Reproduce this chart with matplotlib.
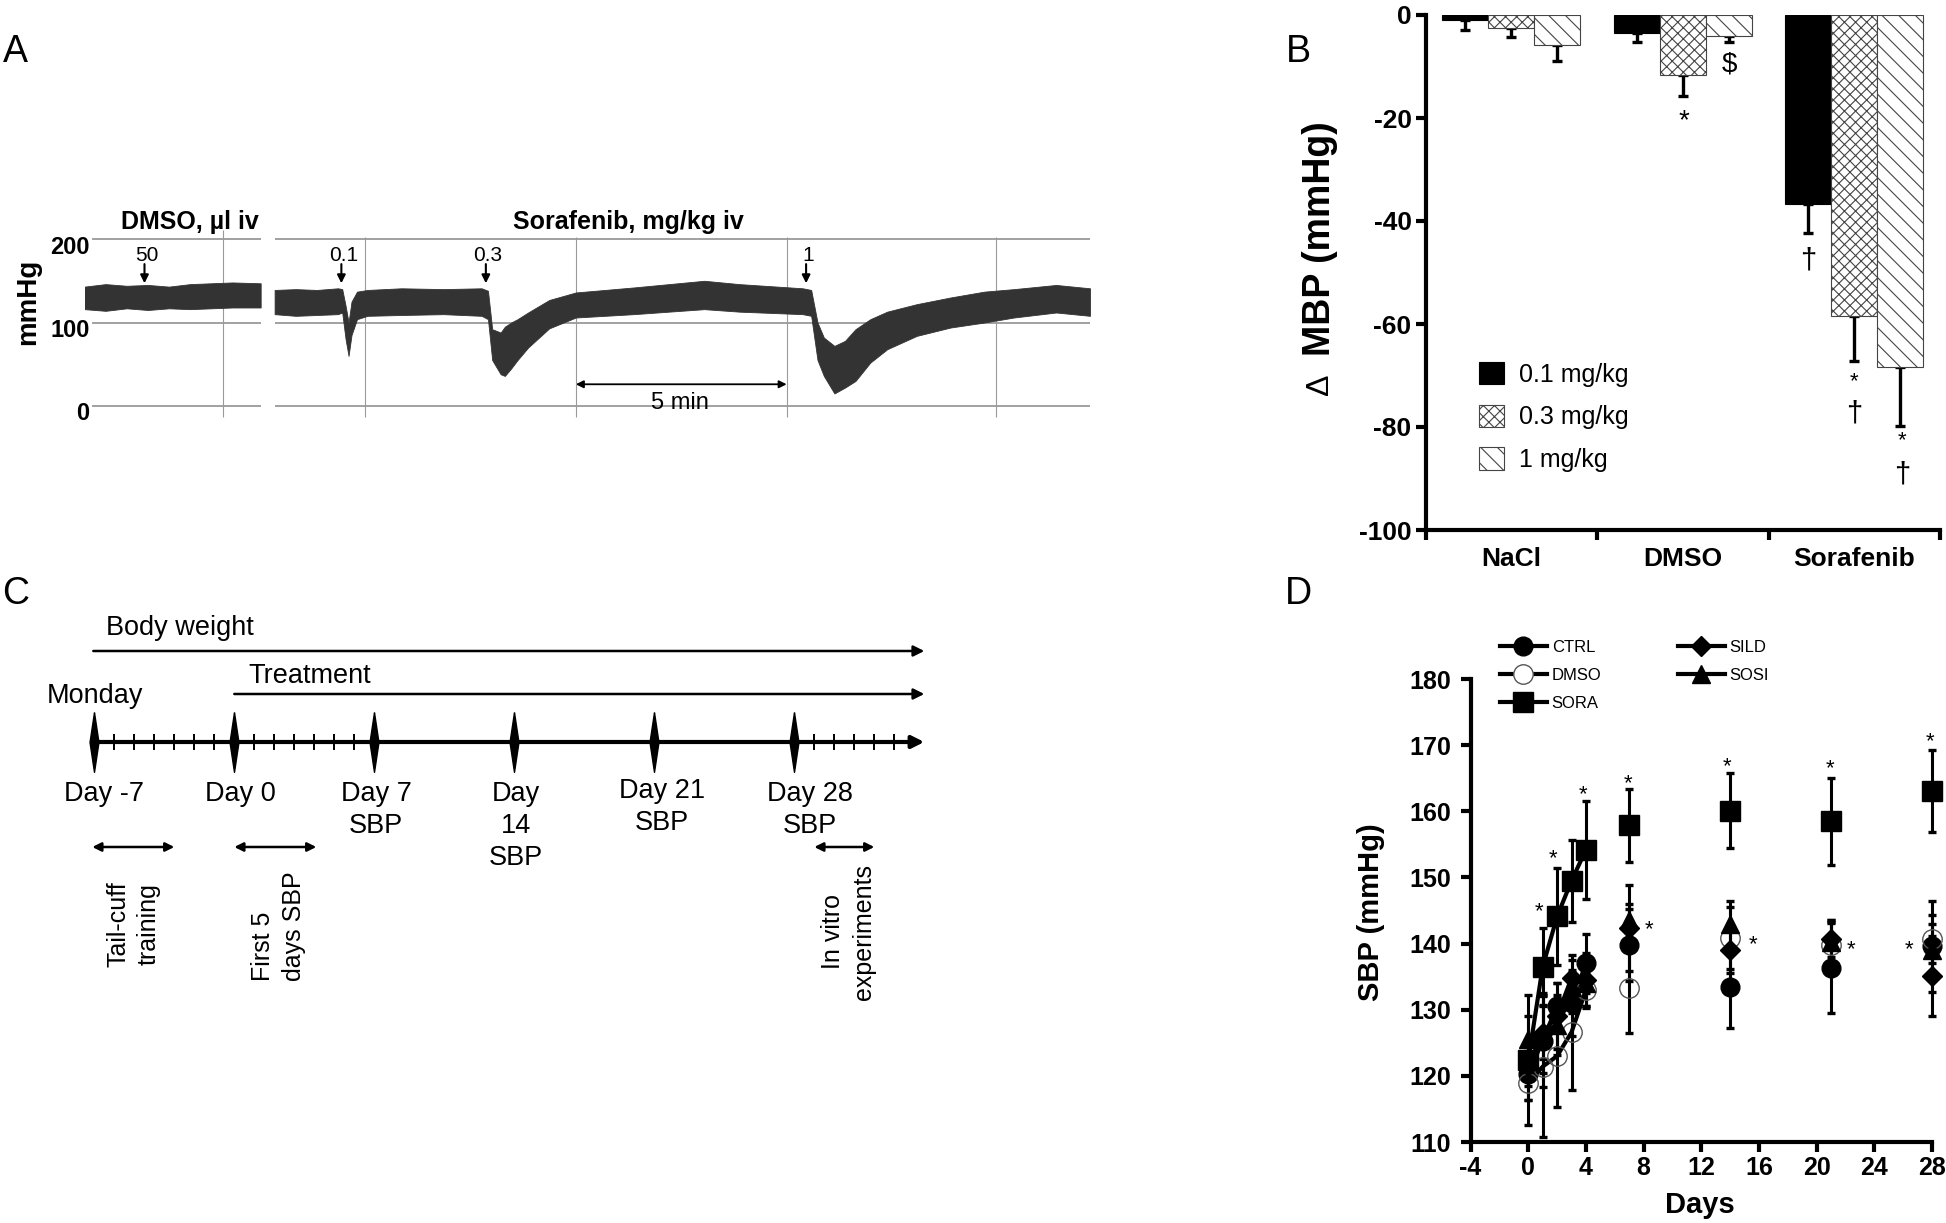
import numpy as np
import matplotlib.pyplot as plt
from matplotlib.lines import Line2D

plt.rcParams['font.family'] = ['Liberation Sans', 'DejaVu Sans']
plt.rcParams['hatch.linewidth'] = 0.8

W, H = 1946, 1223


def fx(x):
    return x / W


def fy(y):
    return 1 - y / H


# ---------------- data ----------------
# Panel A: envelope (max / min) of the pulsatile pressure trace, mmHg vs min
dmso_t = [-4.5, -4.0, -3.5, -3.0, -2.5, -2.0, -1.5, -1.0, -0.33]
dmso_hi = [143, 146, 144, 145, 143, 146, 147, 148, 147]
dmso_lo = [116, 114, 117, 115, 117, 116, 117, 118, 118]

sora_t = [0.0, 0.5, 1.0, 1.5, 1.6, 1.68, 1.75, 1.82, 1.95, 2.2, 3.0, 4.0, 4.9,
          5.05, 5.15, 5.35, 5.45, 5.6, 5.75, 6.0, 6.5, 7.13, 8.5, 10.17, 11.0,
          12.5, 12.7, 12.85, 13.0, 13.25, 13.5, 13.75, 14.1, 14.5, 15.2,
          16.0, 16.8, 17.5, 18.5, 19.3]
sora_hi = [139, 140, 139, 141, 140, 120, 100, 125, 137, 139, 141, 140, 141,
           138, 92, 88, 95, 100, 104, 112, 127, 136, 142, 150, 146,
           141, 139, 100, 82, 72, 78, 92, 104, 113, 122,
           130, 137, 140, 145, 141]
sora_lo = [110, 108, 109, 110, 112, 80, 60, 85, 104, 108, 109, 110, 108,
           104, 55, 38, 36, 45, 55, 70, 93, 106, 110, 116, 113,
           110, 108, 55, 36, 15, 22, 30, 52, 68, 84,
           94, 100, 106, 112, 108]

a_doses = ['50', '0.1', '0.3', '1']
a_dose_t = [-3.08, 1.58, 5.0, 12.58]
a_yticks = [200, 100, 0]

# Panel B: change in MBP
groups_b = ['NaCl', 'DMSO', 'Sorafenib']
doses_b = ['0.1 mg/kg', '0.3 mg/kg', '1 mg/kg']
mbp_01 = [-1.0, -3.5, -36.7]
mbp_03 = [-2.6, -11.7, -58.5]
mbp_1 = [-5.8, -4.0, -68.4]
sem_01 = [2.0, 1.7, 5.7]
sem_03 = [1.6, 4.1, 8.7]
sem_1 = [3.2, 1.2, 11.5]

# Panel C: protocol timeline (days)
week_days = [-7, 0, 7, 14, 21, 28]
week_labels = ['Day -7', 'Day 0', 'Day 7\nSBP', 'Day\n14\nSBP', 'Day 21\nSBP', 'Day 28\nSBP']
daily_ticks = [-6, -5, -4, -3, -2, -1, 1, 2, 3, 4, 5, 6, 29, 30, 31, 32, 33]

# Panel D: SBP time course
days = [0, 1, 2, 3, 4, 7, 14, 21, 28]
ctrl = [120.3, 125.3, 130.6, 131.0, 137.0, 139.8, 133.4, 136.3, 139.6]
ctrl_err = [4.0, 7.0, 3.5, 5.0, 4.4, 5.5, 6.2, 6.8, 6.9]
dmso = [118.9, 121.4, 123.0, 126.6, 133.0, 133.3, 140.9, 139.8, 140.7]
dmso_err = [2.5, 10.6, 7.7, 8.7, 2.5, 6.8, 4.7, 3.7, 3.6]
sora = [122.4, 136.5, 144.1, 149.5, 154.2, 157.9, 160.1, 158.5, 163.0]
sora_err = [9.8, 5.8, 7.3, 6.2, 7.4, 5.5, 5.7, 6.6, 6.2]
sild = [121.5, 126.5, 129.0, 134.8, 134.5, 142.4, 139.0, 140.7, 135.1]
sild_err = [3.0, 4.0, 5.0, 3.5, 4.0, 6.5, 3.5, 2.8, 6.0]
sosi = [125.5, 126.5, 127.7, 133.5, 134.0, 143.5, 142.9, 140.3, 139.0]
sosi_err = [3.5, 6.0, 4.5, 4.0, 3.7, 2.5, 3.5, 3.0, 4.0]

fig = plt.figure(figsize=(W / 100, H / 100), dpi=100)

# ---------------- panel A ----------------
ax_a = fig.add_axes([fx(84.5), fy(418.5), fx(1090) - fx(84.5), (418.5 - 214) / H])
ax_a.set_xlim(-4.5, 19.3)
ax_a.set_ylim(-15, 230)
ax_a.axis('off')
gc = '#9a9a9a'
ax_a.hlines(a_yticks, -4.33, -0.33, color=gc, lw=1.3, zorder=0)
ax_a.hlines(a_yticks, 0, 19.3, color=gc, lw=1.3, zorder=0)
ax_a.vlines([-1.23], -13, 211, color=gc, lw=0.8, zorder=0)
ax_a.vlines([2.13, 7.13, 12.12, 17.08], -13, 203, color=gc, lw=0.8, zorder=0)
ax_a.fill_between(dmso_t, dmso_lo, dmso_hi, color='#333333', lw=0.6)
ax_a.fill_between(sora_t, sora_lo, sora_hi, color='#333333', lw=0.6)
for v, yy in zip(a_yticks, [190, 91, -9]):
    ax_a.text(-4.38, yy, str(v), ha='right', va='center', fontsize=17, fontweight='bold')
ax_a.text(-2.0, 221, 'DMSO, µl iv', ha='center', va='center', fontsize=18, fontweight='bold')
ax_a.text(8.37, 221, 'Sorafenib, mg/kg iv', ha='center', va='center', fontsize=18, fontweight='bold')
for lab, t in zip(a_doses, a_dose_t):
    ax_a.annotate('', xy=(t, 147), xytext=(t, 170),
                  arrowprops=dict(arrowstyle='-|>', color='k', lw=1.5, mutation_scale=12,
                                  shrinkA=0, shrinkB=0))
    ax_a.text(t + 0.05, 180, lab, ha='center', va='center', fontsize=15)
ax_a.annotate('', xy=(7.13, 26), xytext=(12.12, 26),
              arrowprops=dict(arrowstyle='<|-|>', color='k', lw=1.3, mutation_scale=11,
                              shrinkA=0, shrinkB=0))
ax_a.text(9.6, 3, '5 min', ha='center', va='center', fontsize=17)
fig.text(fx(28), fy(302), 'mmHg', rotation=90, ha='center', va='center',
         fontsize=20, fontweight='bold')

# ---------------- panel B ----------------
ax_b = fig.add_axes([fx(1425.5), fy(530), fx(1940) - fx(1425.5), (530 - 15) / H])
x = np.arange(len(groups_b)) + 0.5
bw = 0.268
b1 = ax_b.bar(x - bw, mbp_01, bw, color='black', edgecolor='black', lw=0.8, zorder=3)
b2 = ax_b.bar(x, mbp_03, bw, color='white', edgecolor='#444444', hatch='xxx', lw=0.8, zorder=3)
b3 = ax_b.bar(x + bw, mbp_1, bw, color='white', edgecolor='#444444', hatch='\\\\', lw=0.8, zorder=3)
for xs, vals, err in [(x - bw, mbp_01, sem_01), (x, mbp_03, sem_03), (x + bw, mbp_1, sem_1)]:
    ax_b.errorbar(xs, vals, yerr=[err, [0] * len(err)], fmt='none', ecolor='k',
                  elinewidth=2.4, capsize=3.6, capthick=2.4, zorder=2)
ax_b.set_xlim(0, 3)
ax_b.set_ylim(-100, 0)
for s in ['top', 'right']:
    ax_b.spines[s].set_visible(False)
for s in ['left', 'bottom']:
    ax_b.spines[s].set_linewidth(3)
ax_b.set_yticks([0, -20, -40, -60, -80, -100])
ax_b.set_yticklabels(['0', '-20', '-40', '-60', '-80', '-100'], fontsize=19, fontweight='bold')
ax_b.set_xticks([0, 1, 2, 3])
ax_b.set_xticklabels([])
ax_b.set_xticks(x, minor=True)
ax_b.set_xticklabels(groups_b, minor=True, fontsize=19, fontweight='bold')
ax_b.tick_params(which='major', direction='out', length=7, width=3, pad=3)
ax_b.tick_params(axis='x', which='minor', length=0, pad=12)
ax_b.text(1.77, -9.7, '$', ha='center', va='center', fontsize=20)
ax_b.annotate('*', (1.509, -19), xytext=(0, -6), textcoords='offset points',
              ha='center', va='center', fontsize=20)
for xx, yy in [(2.50, -69.8), (2.777, -81.3)]:
    ax_b.annotate('*', (xx, yy), xytext=(0, -5), textcoords='offset points',
                  ha='center', va='center', fontsize=16)
for xx, yy in [(2.232, -47.6), (2.50, -77.4), (2.777, -89.2)]:
    ax_b.text(xx, yy, '†', ha='center', va='center', fontsize=21)
fig.legend([b1, b2, b3], doses_b, loc='upper left', bbox_to_anchor=(fx(1479), fy(362)),
           frameon=False, fontsize=18, handlelength=1.0, handleheight=1.0,
           handletextpad=0.6, labelspacing=0.72, borderpad=0, borderaxespad=0)
fig.text(fx(1320), fy(239), 'MBP (mmHg)', rotation=90, ha='center', va='center',
         fontsize=27, fontweight='bold')
fig.text(fx(1320), fy(384), 'Δ', rotation=90, ha='center', va='center', fontsize=23)

# ---------------- panel C ----------------
ax_c = fig.add_axes([fx(34.3), fy(1000), fx(954.3) - fx(34.3), (1000 - 590) / H])
ax_c.set_xlim(-10, 36)
ax_c.set_ylim(1000, 590)
ax_c.axis('off')
arr = dict(color='k', shrinkA=0, shrinkB=0)
ax_c.annotate('', xy=(34.5, 651), xytext=(-7.05, 651),
              arrowprops=dict(arrowstyle='-|>', lw=1.8, mutation_scale=16, **arr))
ax_c.annotate('', xy=(34.5, 694), xytext=(0, 694),
              arrowprops=dict(arrowstyle='-|>', lw=1.8, mutation_scale=16, **arr))
ax_c.annotate('', xy=(34.5, 742), xytext=(-7, 742),
              arrowprops=dict(arrowstyle='-|>', lw=3, mutation_scale=18, **arr))
ax_c.plot(daily_ticks, [742] * len(daily_ticks), ls='none', marker='|', ms=11,
          mew=1.4, color='k')
diamond = [(0, 1), (0.15, 0), (0, -1), (-0.15, 0), (0, 1)]
ax_c.plot(week_days, [742] * len(week_days), ls='none', marker=diamond, ms=43,
          color='k', zorder=4)
ax_c.text(-6.44, 628, 'Body weight', ha='left', va='center', fontsize=19.5)
ax_c.text(0.71, 676, 'Treatment', ha='left', va='center', fontsize=19.5)
ax_c.text(-9.37, 696, 'Monday', ha='left', va='center', fontsize=19.5)
label_shift = [0.5, 0.3, 0.1, 0.1, 0.4, 0.8]
label_top = [781, 781, 781, 781, 778, 781]
for d, lab, sh, tp in zip(week_days, week_labels, label_shift, label_top):
    ax_c.text(d + sh, tp, lab, ha='center', va='top', fontsize=19.5, linespacing=1.3)
for a, b in [(-7.1, -3.0), (0, 4.1), (29.0, 32.0)]:
    ax_c.annotate('', xy=(b, 847), xytext=(a, 847),
                  arrowprops=dict(arrowstyle='<|-|>', lw=1.8, mutation_scale=13, **arr))
ax_c.text(-5.04, 924, 'Tail-cuff\ntraining', rotation=90, ha='center', va='center',
          fontsize=18, linespacing=1.35, multialignment='center')
ax_c.text(2.2, 926, 'First 5\ndays SBP', rotation=90, ha='center', va='center',
          fontsize=18, linespacing=1.35, multialignment='left')
ax_c.text(30.7, 932, 'In vitro\nexperiments', rotation=90, ha='center', va='center',
          fontsize=18, linespacing=1.35, multialignment='center')

# ---------------- panel D ----------------
ax_d = fig.add_axes([fx(1470.6), fy(1142), fx(1932) - fx(1470.6), (1142 - 679) / H])
series = [
    ('CTRL', ctrl, ctrl_err, dict(marker='o', ms=13.5, mfc='k', mec='k', mew=1)),
    ('DMSO', dmso, dmso_err, dict(marker='o', ms=14, mfc='none', mec='#555555', mew=1)),
    ('SORA', sora, sora_err, dict(marker='s', ms=14, mfc='k', mec='k', mew=1)),
    ('SILD', sild, sild_err, dict(marker='D', ms=10.5, mfc='k', mec='k', mew=1)),
    ('SOSI', sosi, sosi_err, dict(marker='^', ms=13, mfc='k', mec='k', mew=1)),
]
handles = []
for name, vals, err, mk in series:
    ax_d.errorbar(days, vals, yerr=err, fmt='none', ecolor='k', elinewidth=2.2,
                  capsize=2.7, capthick=2.4, zorder=2, clip_on=False)
    ax_d.plot(days[:5], vals[:5], color='k', lw=3, zorder=3, solid_capstyle='butt')
    ax_d.plot(days, vals, ls='none', zorder=4, clip_on=False, **mk)
    hk = dict(mk)
    if name == 'DMSO':
        hk['mfc'] = 'white'
    handles.append(Line2D([], [], color='k', lw=3, **hk))
ax_d.set_xlim(-4, 28)
ax_d.set_ylim(110, 180)
for s in ['top', 'right']:
    ax_d.spines[s].set_visible(False)
for s in ['left', 'bottom']:
    ax_d.spines[s].set_linewidth(3)
ax_d.set_xticks(range(-4, 29, 4))
ax_d.set_xticklabels([str(v) for v in range(-4, 29, 4)], fontsize=18, fontweight='bold')
ax_d.set_yticks(range(110, 181, 10))
ax_d.set_yticklabels([str(v) for v in range(110, 181, 10)], fontsize=18, fontweight='bold')
ax_d.tick_params(axis='x', direction='out', length=7, width=3, pad=3)
ax_d.tick_params(axis='y', direction='out', length=7, width=3, pad=7)
stars_d = [(0.76, 145.8), (1.72, 153.9), (3.81, 163.5), (6.89, 165.2), (13.81, 167.8),
           (20.93, 167.5), (27.88, 171.6), (8.40, 143.2), (15.62, 140.9), (22.4, 140.2),
           (26.4, 140.1)]
for xx, yy in stars_d:
    ax_d.annotate('*', (xx, yy), xytext=(0, -5), textcoords='offset points',
                  ha='center', va='center', fontsize=16, annotation_clip=False)
fig.legend(handles, ['CTRL', 'DMSO', 'SORA', 'SILD', 'SOSI'], ncol=2, loc='upper left',
           bbox_to_anchor=(fx(1500), fy(640)), frameon=False, fontsize=12,
           handlelength=2.8, handletextpad=0.3, labelspacing=0.78, columnspacing=4.6,
           borderpad=0, borderaxespad=0)
fig.text(fx(1371), fy(912), 'SBP (mmHg)', rotation=90, ha='center', va='center',
         fontsize=21, fontweight='bold')
fig.text(fx(1700), fy(1205), 'Days', ha='center', va='center', fontsize=21, fontweight='bold')

# panel letters
for lab, (px, py) in zip('ABCD', [(15, 52), (1298, 52), (16, 594), (1298, 594)]):
    fig.text(fx(px), fy(py), lab, ha='center', va='center', fontsize=27)

fig.savefig('out.png', dpi=100)
